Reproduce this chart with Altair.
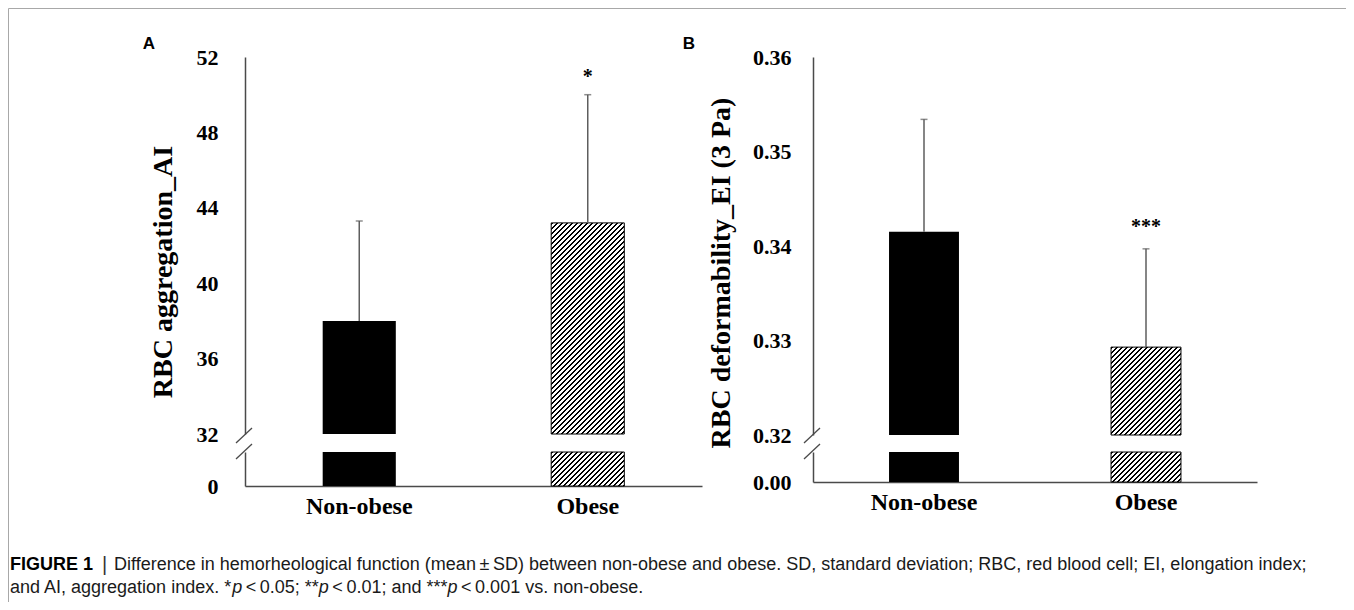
import altair as alt
import pandas as pd

# ---------------- data ----------------
groups = ["Non-obese", "Obese"]
ai_mean = [38.0, 43.2]
ai_sd = [5.3, 6.8]
ai_sig = ["", "*"]
ei_mean = [0.3415, 0.3293]
ei_sd = [0.0119, 0.0104]
ei_sig = ["", "***"]
ai_ticks = [32, 36, 40, 44, 48, 52]
ei_ticks = [0.32, 0.33, 0.34, 0.35, 0.36]
ai_break, ai_top = 32, 52
ei_break, ei_top = 0.32, 0.36
ai_title = "RBC aggregation_AI"
ei_title = "RBC deformability_EI (3 Pa)"
cap_bold = "FIGURE 1"
cap_line1 = ("Difference in hemorheological function (mean\u2009\u00b1\u2009SD) between non-obese and obese. "
             "SD, standard deviation; RBC, red blood cell; EI, elongation index;")
cap_line2 = [("and AI, aggregation index. *", "normal"), ("p", "italic"), ("<\u20090.05; **", "normal"),
             ("p", "italic"), ("<\u20090.01; and ***", "normal"), ("p", "italic"),
             ("<\u20090.001 vs. non-obese.", "normal")]

# ---------------- layout ----------------
W, H = 1338, 594
O = 8


def P(v):
    return v - O


SERIF = "Liberation Serif"
SANS = "Liberation Sans"
AXC = "#4a4a4a"
ERRC = "#5e5e5e"

ARIAL = {' ': 278, '*': 389, ',': 278, '.': 278, ';': 278, '<': 584, 'A': 667, 'I': 278, 'a': 556,
         'b': 556, 'c': 500, 'd': 556, 'e': 556, 'g': 556, 'i': 222, 'n': 556, 'o': 556, 'r': 333,
         's': 500, 't': 278, 'v': 500, 'x': 500, '-': 333, 'p': 556, 'l': 222, '\u2009': 200}
for dgt in "0123456789":
    ARIAL[dgt] = 556
ARIAL_B = {'F': 611, 'I': 278, 'G': 778, 'U': 722, 'R': 722, 'E': 667, ' ': 278, '1': 556}


def text_w(s, table, size):
    return sum(table.get(c, 556) for c in s) * size / 1000.0


def hatch_fill(w, h, period=5.0, frac=0.5):
    s = w + h
    k = s / (w * w + h * h)
    d = period / s
    stops = []
    t = 0.0
    while t < 1.0:
        a = min(t + frac * d, 1.0)
        b = min(t + d, 1.0)
        stops += [{"offset": round(t, 5), "color": "black"}, {"offset": round(a, 5), "color": "black"},
                  {"offset": round(a, 5), "color": "white"}, {"offset": round(b, 5), "color": "white"}]
        t += d
    return {"gradient": "linear", "x1": 0, "y1": 0, "x2": w * k, "y2": h * k, "stops": stops}


def make_panel(means, sds, sigs, brk, top, ticks, fmt, xr, yu, yl, pi, lab_pad, star_dy):
    df = pd.DataFrame({"group": groups, "mean": means, "sd": sds, "sig": sigs})
    step = (xr[1] - xr[0]) / len(groups)
    bw = step * (1 - pi)
    xs = alt.Scale(domain=groups, range=xr, paddingInner=pi, paddingOuter=pi / 2)
    base = alt.Chart(df).transform_calculate(
        top="datum.mean + datum.sd", base=f"{brk}", low=f"min(datum.mean, {brk})", zero="0")
    common_axis = dict(orient="left", offset=-xr[0], title=None, ticks=False, grid=False,
                       domainColor=AXC, domainWidth=1.5, labelFont=SERIF, labelFontWeight="bold",
                       labelFontSize=22, labelColor="black", labelPadding=lab_pad,
                       labelOverlap=False, labelFlush=False, format=fmt)
    # upper part
    x_up = alt.X("group:N", scale=xs, axis=None)
    ys_u = alt.Scale(domain=[brk, top], range=yu, zero=False, nice=False)
    yax_u = alt.Axis(values=ticks, **common_axis)

    def Yu(f):
        return alt.Y(f, scale=ys_u, axis=yax_u)

    h_u = (means[1] - brk) / (top - brk) * (yu[0] - yu[1])
    solid = base.transform_filter(alt.datum.group == groups[0]).mark_bar(color="black").encode(
        x=x_up, y=Yu("mean:Q"), y2="base:Q")
    hatched = base.transform_filter(alt.datum.group == groups[1]).mark_bar(
        fill=hatch_fill(bw, h_u), stroke="black", strokeWidth=1).encode(
        x=x_up, y=Yu("mean:Q"), y2="base:Q")
    err = base.mark_rule(color=ERRC, strokeWidth=1.5).encode(x=x_up, y=Yu("mean:Q"), y2="top:Q")
    cap = base.mark_tick(orient="horizontal", size=7, thickness=1.5, color=ERRC).encode(
        x=x_up, y=Yu("top:Q"))
    star = base.mark_text(font=SERIF, fontSize=20, fontWeight="bold", baseline="alphabetic",
                          dy=star_dy, color="black").encode(x=x_up, y=Yu("top:Q"), text="sig:N")
    upper = alt.layer(solid, hatched, err, cap, star)

    # lower part
    x_low = alt.X("group:N", scale=xs, axis=alt.Axis(
        orient="bottom", offset=yl[0] - H, title=None, ticks=False, domainColor=AXC, domainWidth=1.5,
        labelFont=SERIF, labelFontWeight="bold", labelFontSize=24, labelColor="black",
        labelPadding=8, labelAngle=0))
    ys_l = alt.Scale(domain=[0, brk], range=yl, zero=False, nice=False)
    yax_l = alt.Axis(values=[0], **common_axis)

    def Yl(f):
        return alt.Y(f, scale=ys_l, axis=yax_l)

    solid_l = base.transform_filter(alt.datum.group == groups[0]).mark_bar(color="black").encode(
        x=x_low, y=Yl("low:Q"), y2="zero:Q")
    hatched_l = base.transform_filter(alt.datum.group == groups[1]).mark_bar(
        fill=hatch_fill(bw, yl[0] - yl[1]), stroke="black", strokeWidth=1).encode(
        x=x_low, y=Yl("low:Q"), y2="zero:Q")
    lower = alt.layer(solid_l, hatched_l)
    return upper, lower


A_up, A_low = make_panel(ai_mean, ai_sd, ai_sig, ai_break, ai_top, ai_ticks, "d",
                         [P(245), P(702)], [P(434), P(57)], [P(486), P(452)], 0.68, 27, -12)
B_up, B_low = make_panel(ei_mean, ei_sd, ei_sig, ei_break, ei_top, ei_ticks, ".2f",
                         [P(813), P(1257)], [P(435), P(57)], [P(482), P(452)], 0.685, 22, -16)

one = pd.DataFrame({"k": [0]})


def label(txt, x, y, **kw):
    return alt.Chart(one).mark_text(**kw).encode(x=alt.value(x), y=alt.value(y), text=alt.value(txt))


def slash(ax, y):
    return alt.Chart(one).mark_rule(color=AXC, strokeWidth=1.3).encode(
        x=alt.value(P(ax - 9)), x2=alt.value(P(ax + 7)), y=alt.value(P(y + 8)), y2=alt.value(P(y - 7)))


decor = [
    label("A", P(149), P(49), font=SANS, fontWeight="bold", fontSize=17, baseline="alphabetic"),
    label("B", P(689), P(49), font=SANS, fontWeight="bold", fontSize=17, baseline="alphabetic"),
    label(ai_title, P(172), P(272), font=SERIF, fontWeight="bold", fontSize=28, angle=270,
          baseline="alphabetic", align="center"),
    label(ei_title, P(730), P(273), font=SERIF, fontWeight="bold", fontSize=28, angle=270,
          baseline="alphabetic", align="center"),
    slash(245, 435), slash(245, 451),
    slash(813, 435), slash(813, 451),
]

# caption
CF = 18
cx = 10
decor.append(label(cap_bold, P(cx), P(565), font=SANS, fontWeight="bold", fontSize=CF,
                   align="left", baseline="middle"))
bx = cx + text_w(cap_bold, ARIAL_B, CF) + 9
decor.append(label("|", P(bx), P(565), font=SANS, fontSize=CF + 2, align="left", baseline="middle",
                   color="#333333"))
decor.append(label(cap_line1, P(bx + 12), P(565), font=SANS, fontSize=CF, align="left",
                   baseline="middle", color="#1a1a1a"))
xx = cx
gap = 3.5  # small gap between pieces (thin space)
for i, (txt, sty) in enumerate(cap_line2):
    if txt.startswith("<"):
        xx += gap
    decor.append(label(txt, P(xx), P(588), font=SANS, fontSize=CF, fontStyle=sty, align="left",
                       baseline="middle", color="#1a1a1a"))
    xx += text_w(txt, ARIAL, CF)

chart = alt.layer(A_up, A_low, B_up, B_low, *decor).resolve_scale(
    x="independent", y="independent").properties(
    width=W, height=H, autosize=alt.AutoSizeParams(type="none"), padding=0,
    background="white").configure_view(stroke="#a8a8a8", strokeWidth=1)

chart.save("out.html", embed_options={"renderer": "svg", "actions": False})
